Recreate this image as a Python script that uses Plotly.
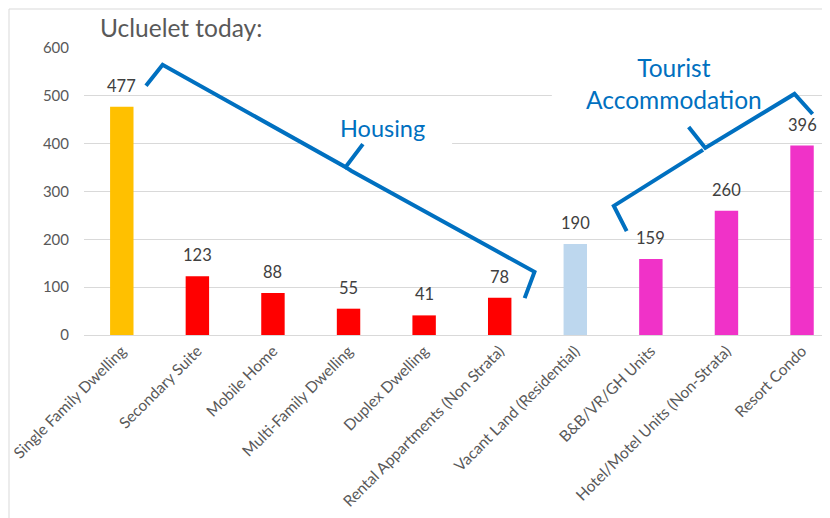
import plotly.graph_objects as go

# data
categories = [
    "Single Family Dwelling",
    "Secondary Suite",
    "Mobile Home",
    "Multi-Family Dwelling",
    "Duplex Dwelling",
    "Rental Appartments (Non Strata)",
    "Vacant Land (Residential)",
    "B&B/VR/GH Units",
    "Hotel/Motel Units (Non-Strata)",
    "Resort Condo",
]
counts = [477, 123, 88, 55, 41, 78, 190, 159, 260, 396]
groups = ["single", "housing", "housing", "housing", "housing", "housing",
          "vacant", "tourist", "tourist", "tourist"]

group_colors = {
    "single": "#FFC000",
    "housing": "#FF0000",
    "vacant": "#BDD7EE",
    "tourist": "#F032C8",
}

FONT = "Lato, 'Open Sans', sans-serif"
BLUE = "#0070C0"

# hand drawn braces (x in category index units, y in chart units)
housing_brace = [(0.32, 521), (0.54, 565), (2.96, 351), (3.19, 399)]
housing_brace_2 = [(2.96, 351), (3.04, 343), (5.46, 132), (5.33, 77)]
tourist_brace = [(6.68, 217), (6.51, 270), (7.69, 387)]
tourist_brace_2 = [(7.50, 435), (7.72, 391), (8.90, 504), (9.14, 462)]


def path_of(points):
    return "M " + " L ".join(f"{x},{y}" for x, y in points)


xs = list(range(len(categories)))

# the page body has an 8px margin, so the figure is sized to fit the window
PLOT_W, PLOT_H = 746, 287

fig = go.Figure()
fig.add_trace(
    go.Bar(
        x=xs,
        y=counts,
        marker_color=[group_colors[g] for g in groups],
        marker_line_width=0,
        hoverinfo="skip",
    )
)

# value labels sit a little above each bar
for x, v in zip(xs, counts):
    fig.add_annotation(x=x, y=v, text=str(v), showarrow=False,
                       yanchor="bottom", yshift=9,
                       font=dict(family=FONT, size=16.5, color="#404040"))

# white boxes behind the text labels hide the gridlines, as in the original
for x0, x1, y0, y1 in [(2.35, 4.37, 387, 491), (5.69, 8.84, 454, 620)]:
    fig.add_shape(type="rect", xref="x", yref="y", x0=x0, x1=x1, y0=y0, y1=y1,
                  fillcolor="white", line_width=0, layer="between")

for pts in [housing_brace, housing_brace_2, tourist_brace, tourist_brace_2]:
    fig.add_shape(type="path", xref="x", yref="y", path=path_of(pts),
                  line=dict(color=BLUE, width=4), layer="above")

# outer chart border
fig.add_shape(type="rect", xref="paper", yref="paper",
              x0=-75 / PLOT_W, x1=1.2, y0=-1.0, y1=(PLOT_H + 39) / PLOT_H,
              line=dict(color="#D9D9D9", width=1),
              fillcolor="rgba(0,0,0,0)", layer="below")

fig.add_annotation(text="Housing", x=3.45, y=433, xref="x", yref="y",
                   showarrow=False, font=dict(family=FONT, size=23.5, color=BLUE))
fig.add_annotation(text="Tourist<br>Accommodation", x=7.3, y=526, xref="x", yref="y",
                   showarrow=False, font=dict(family=FONT, size=24.5, color=BLUE))
fig.add_annotation(text="Ucluelet today:", x=14 / PLOT_W, y=(PLOT_H + 20) / PLOT_H,
                   xref="paper", yref="paper", showarrow=False,
                   xanchor="left", yanchor="middle",
                   font=dict(family=FONT, size=24.5, color="#595959"))

fig.update_layout(
    width=822,
    height=510,
    margin=dict(l=76, r=0, t=40, b=183),
    plot_bgcolor="white",
    paper_bgcolor="white",
    showlegend=False,
    bargap=0.69,
    font=dict(family=FONT, color="#595959"),
)
fig.update_xaxes(
    range=[-0.5, 9.37],
    tickvals=xs,
    ticktext=categories,
    tickangle=-45,
    tickfont=dict(family=FONT, size=15.5, color="#595959"),
    showgrid=False,
    zeroline=False,
    showline=True,
    linecolor="#D9D9D9",
    linewidth=1,
    ticks="",
)
fig.update_yaxes(
    range=[0, 600],
    dtick=100,
    tickfont=dict(family=FONT, size=15, color="#595959"),
    gridcolor="#D9D9D9",
    gridwidth=1,
    zeroline=False,
    showline=False,
    ticklabelstandoff=14,
)

fig.write_html("out.html")
